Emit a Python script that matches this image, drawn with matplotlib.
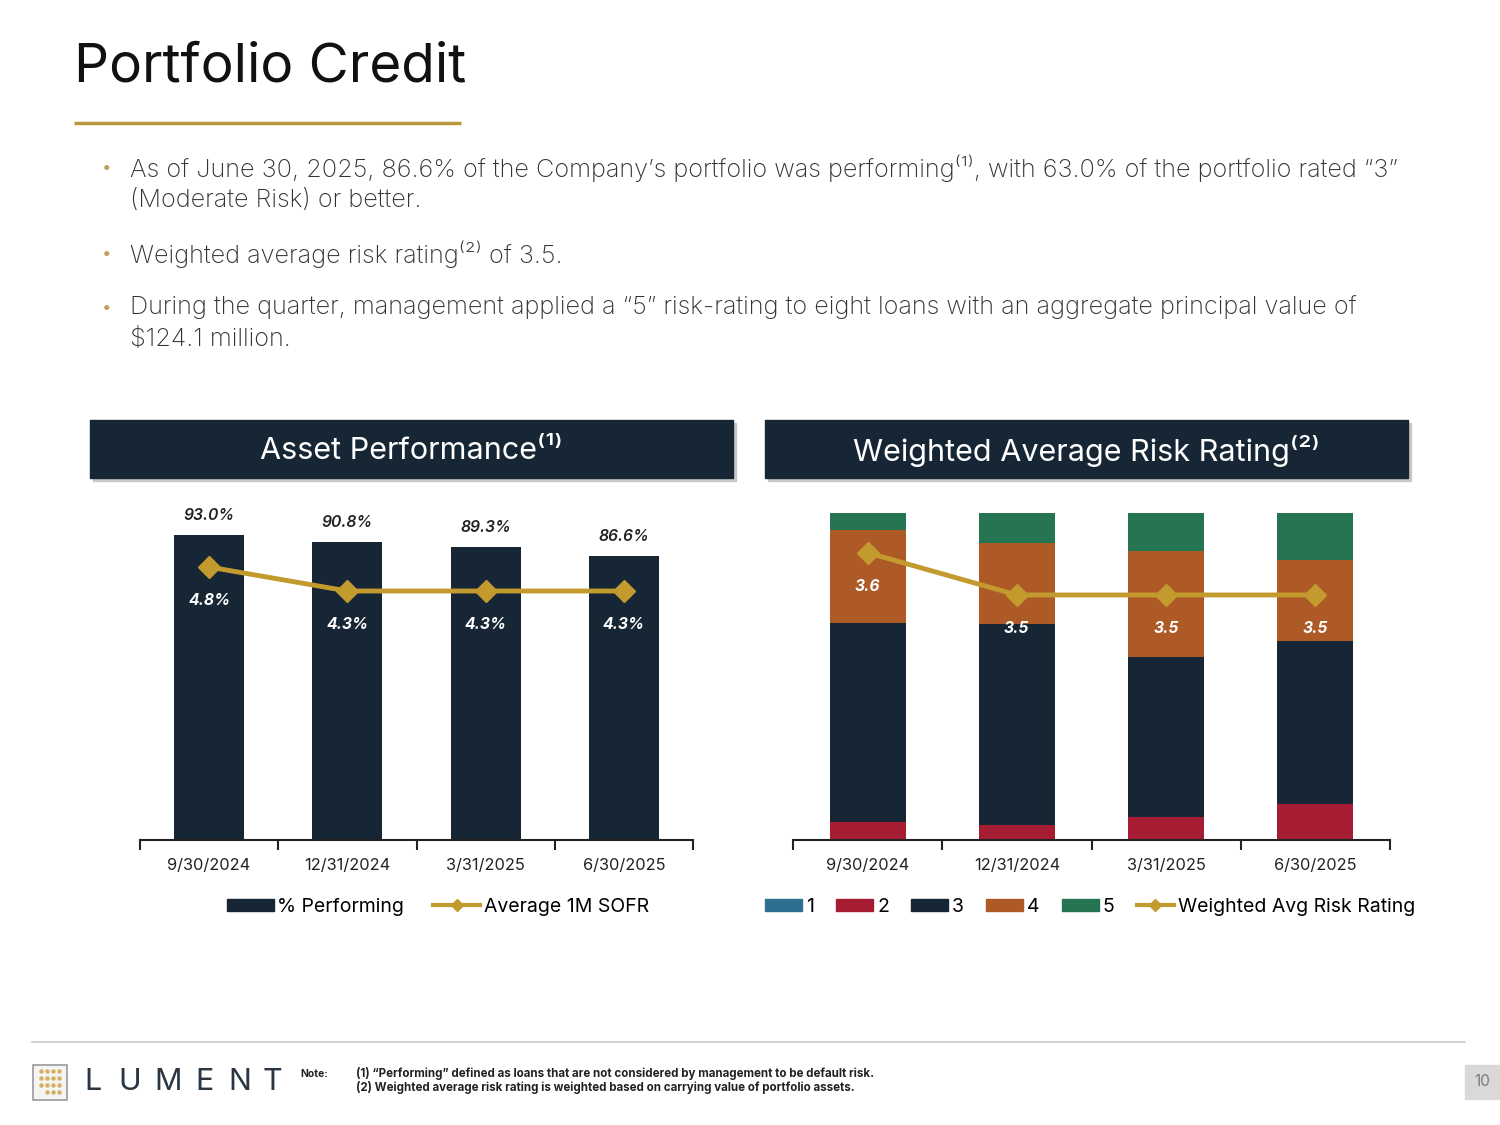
import matplotlib
matplotlib.use("Agg")
import matplotlib.pyplot as plt
from matplotlib.patches import Rectangle, Patch
from matplotlib.lines import Line2D
import numpy as np

plt.rcParams['font.family'] = ['Inter', 'DejaVu Sans']

# data
quarters = ["9/30/2024", "12/31/2024", "3/31/2025", "6/30/2025"]
pct_performing = [93.0, 90.8, 89.3, 86.6]
sofr = [4.8, 4.3, 4.3, 4.3]

risk_1 = [0.0, 0.0, 0.0, 0.0]
risk_2 = [5.6, 4.6, 7.1, 10.9]
risk_3 = [60.9, 61.4, 48.9, 49.9]
risk_4 = [28.2, 24.8, 32.4, 24.8]
risk_5 = [5.3, 9.2, 11.6, 14.4]
wavg_risk = [3.6, 3.5, 3.5, 3.5]

bullets = [
    ["As of June 30, 2025, 86.6% of the Company\u2019s portfolio was performing\u207d\u00b9\u207e, with 63.0% of the portfolio rated \u201c3\u201d",
     "(Moderate Risk) or better."],
    ["Weighted average risk rating\u207d\u00b2\u207e of 3.5."],
    ["During the quarter, management applied a \u201c5\u201d risk-rating to eight loans with an aggregate principal value of",
     "$124.1 million."],
]

NAVY = "#172635"
GOLD = "#c39a2e"
RED = "#a61d33"
ORANGE = "#ad5a26"
GREEN = "#267552"
TEAL = "#2d6f8f"

fig = plt.figure(figsize=(15, 11.25), dpi=100)

# page layer in pixel coordinates
bg = fig.add_axes([0, 0, 1, 1], zorder=-1)
bg.set_xlim(0, 1500)
bg.set_ylim(1125, 0)
bg.axis("off")

bg.text(74, 68, "Portfolio Credit", fontsize=39.5, color="#111111", va="center", ha="left")
bg.plot([74, 461], [123, 123], color="#b8963e", lw=2.5, solid_capstyle="butt")

line_y = 168
for b in bullets:
    bg.text(107, line_y, "\u2022", color="#c0a060", fontsize=12, va="center", ha="center")
    for ln in b:
        bg.text(130, line_y, ln, fontsize=18.2, weight="light", color="#333333", va="center", ha="left")
        line_y += 33
    line_y += 20

# header boxes
for x0, title in [(90, "Asset Performance\u207d\u00b9\u207e"), (765, "Weighted Average Risk Rating\u207d\u00b2\u207e")]:
    bg.add_patch(Rectangle((x0 + 3, 423), 643, 58, color="#c8c8c8", zorder=1))
    bg.add_patch(Rectangle((x0, 420), 643, 58, color=NAVY, zorder=2))
    bg.text(x0 + 321, 451, title, color="white", fontsize=22, ha="center", va="center", zorder=3)

# footer
bg.plot([32, 1465], [1042, 1042], color="#c8c8c8", lw=1.2)
bg.add_patch(Rectangle((33, 1065), 34, 35, facecolor="#f4f4f4", edgecolor="#9a9a9a", lw=1.2))
for i in range(4):
    for j in range(4):
        if i == 3 and j == 0:
            continue
        bg.plot(41 + j * 6, 1071 + i * 7, "o", color="#d6b060", ms=2.2)
for cx, letter in zip([93, 130, 168, 205, 240, 272], "LUMENT"):
    bg.text(cx, 1082, letter, fontsize=22, color="#2a3642", va="center", ha="center")
bg.text(300, 1074, "Note:", fontsize=7.5, color="#222222", va="center", weight="bold")
bg.text(356, 1074, "(1) \u201cPerforming\u201d defined as loans that are not considered by management to be default risk.",
        fontsize=8.3, color="#222222", va="center", weight="bold")
bg.text(356, 1088, "(2) Weighted average risk rating is weighted based on carrying value of portfolio assets.",
        fontsize=8.3, color="#222222", va="center", weight="bold")
bg.add_patch(Rectangle((1465, 1065), 35, 34, color="#d9d9d9"))
bg.text(1482, 1082, "10", fontsize=11, color="#7a7a7a", ha="center", va="center")

x = np.arange(len(quarters))


def style_axis(ax):
    for s in ["top", "right", "left"]:
        ax.spines[s].set_visible(False)
    ax.spines["bottom"].set_color("#222222")
    ax.spines["bottom"].set_linewidth(1.5)
    ax.set_yticks([])
    ax.set_xlim(-0.5, 3.5)
    ax.set_xticks(x)
    ax.set_xticklabels(quarters, fontsize=11.8, color="#222222")
    ax.tick_params(axis="x", which="major", length=0, pad=13)
    ax.set_xticks(np.arange(-0.5, 4, 1), minor=True)
    ax.tick_params(axis="x", which="minor", length=7, width=1.5, color="#222222", direction="out")


# left chart: asset performance
ax1 = fig.add_axes([140 / 1500, 1 - 840 / 1125, 553 / 1500, 328 / 1125])
ax1.bar(x, pct_performing, width=0.505, color=NAVY)
ax1.set_ylim(0, 100)
style_axis(ax1)
for xi, v in zip(x, pct_performing):
    ax1.annotate(f"{v:.1f}%", (xi, v), xytext=(0, 14), textcoords="offset points",
                 ha="center", va="center", fontsize=11.3, style="italic", weight="semibold", color="#222222")
ax1b = ax1.twinx()
ax1b.plot(x, sofr, color=GOLD, lw=3.5, marker="D", ms=11)
ax1b.set_ylim(-0.8875, 5.946)
ax1b.axis("off")
for xi, v in zip(x, sofr):
    ax1b.annotate(f"{v:.1f}%", (xi, v), xytext=(0, -24), textcoords="offset points",
                  ha="center", va="center", fontsize=11.3, style="italic", weight="bold", color="white")

leg1 = [Patch(color=NAVY, label="% Performing"),
        Line2D([], [], color=GOLD, lw=3, marker="D", ms=6, label="Average 1M SOFR")]
fig.legend(handles=leg1, loc="center", bbox_to_anchor=(438 / 1500, 1 - 907 / 1125), ncol=2,
           frameon=False, fontsize=14, handlelength=2.4, handleheight=0.6, handletextpad=0.2,
           columnspacing=1.5)

# right chart: risk rating
ax2 = fig.add_axes([793 / 1500, 1 - 840 / 1125, 597 / 1500, 327 / 1125])
bottom = np.zeros(len(quarters))
for vals, col in [(risk_1, TEAL), (risk_2, RED), (risk_3, NAVY), (risk_4, ORANGE), (risk_5, GREEN)]:
    ax2.bar(x, vals, bottom=bottom, width=0.51, color=col)
    bottom += np.array(vals)
ax2.set_ylim(0, 100)
style_axis(ax2)
ax2b = ax2.twinx()
ax2b.plot(x, wavg_risk, color=GOLD, lw=3.5, marker="D", ms=11)
ax2b.set_ylim(2.92, 3.694)
ax2b.axis("off")
for xi, v in zip(x, wavg_risk):
    ax2b.annotate(f"{v:.1f}", (xi, v), xytext=(0, -24), textcoords="offset points",
                  ha="center", va="center", fontsize=11.3, style="italic", weight="bold", color="white")

leg2 = [Patch(color=TEAL, label="1"), Patch(color=RED, label="2"), Patch(color=NAVY, label="3"),
        Patch(color=ORANGE, label="4"), Patch(color=GREEN, label="5"),
        Line2D([], [], color=GOLD, lw=3, marker="D", ms=6, label="Weighted Avg Risk Rating")]
fig.legend(handles=leg2, loc="center", bbox_to_anchor=(1090 / 1500, 1 - 907 / 1125), ncol=6,
           frameon=False, fontsize=14, handlelength=1.9, handleheight=0.6, handletextpad=0.2,
           columnspacing=1.15)

fig.savefig("out.png", dpi=100)
